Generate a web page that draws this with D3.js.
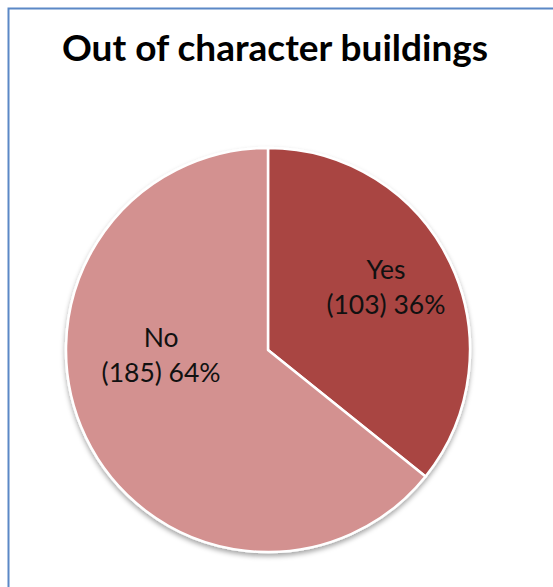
<!DOCTYPE html>
<html><head><meta charset="utf-8">
<script src="https://cdn.jsdelivr.net/npm/d3@7"></script>
<style>
html,body{margin:0;padding:0;background:#fff;}
</style></head>
<body>
<svg id="chart" width="553" height="587"></svg>
<script>
const categories = ["Yes", "No"];
const counts = [103, 185];
const percents = ["36%", "64%"];
const colors = ["#a94543", "#d39190"];
const title = "Out of character buildings";

const svg = d3.select("#chart");
const W = 553, H = 587;

// outer border
svg.append("rect").attr("x", 8.5).attr("y", 8.5).attr("width", W + 10).attr("height", H + 10)
  .attr("fill", "#fff").attr("stroke", "#5b88c6").attr("stroke-width", 2);

svg.append("text").attr("x", 275).attr("y", 61).attr("text-anchor", "middle")
  .attr("font-family", "Lato, 'Open Sans', sans-serif").attr("font-weight", "bold")
  .attr("font-size", 37).attr("fill", "#000").text(title);

const defs = svg.append("defs");
const f = defs.append("filter").attr("id", "sh").attr("x", "-20%").attr("y", "-20%").attr("width", "140%").attr("height", "140%");
f.append("feDropShadow").attr("dx", 0).attr("dy", 3).attr("stdDeviation", 2.5).attr("flood-color", "#000").attr("flood-opacity", 0.35);

const cx = 268, cy = 350, R = 202;
const data = categories.map((c, i) => ({cat: c, value: counts[i], pct: percents[i], color: colors[i]}));
const pie = d3.pie().sort(null).value(d => d.value);
const arc = d3.arc().innerRadius(0).outerRadius(R);
const arcs = pie(data);

const g = svg.append("g").attr("transform", `translate(${cx},${cy})`);
g.append("g").attr("filter", "url(#sh)")
  .selectAll("path").data(arcs).join("path")
  .attr("d", arc).attr("fill", d => d.data.color)
  .attr("stroke", "#fff").attr("stroke-width", 2.5).attr("stroke-linejoin", "round");

const labelArc = d3.arc().innerRadius(R * 0.62).outerRadius(R * 0.62);
const labelShift = [[5, 1], [6, -40]];
const lab = g.selectAll("text.lbl").data(arcs).join("text").attr("class", "lbl")
  .attr("text-anchor", "middle")
  .attr("font-family", "Lato, 'Open Sans', sans-serif").attr("font-size", 26.5).attr("fill", "#111")
  .attr("transform", (d, i) => {
    const c = labelArc.centroid(d);
    return `translate(${c[0] + labelShift[i][0]},${c[1] + labelShift[i][1]})`;
  });
lab.append("tspan").attr("x", 0).attr("y", -17.5).text(d => d.data.cat);
lab.append("tspan").attr("x", 0).attr("y", 17.5).text(d => `(${d.data.value}) ${d.data.pct}`);
</script>
</body></html>
